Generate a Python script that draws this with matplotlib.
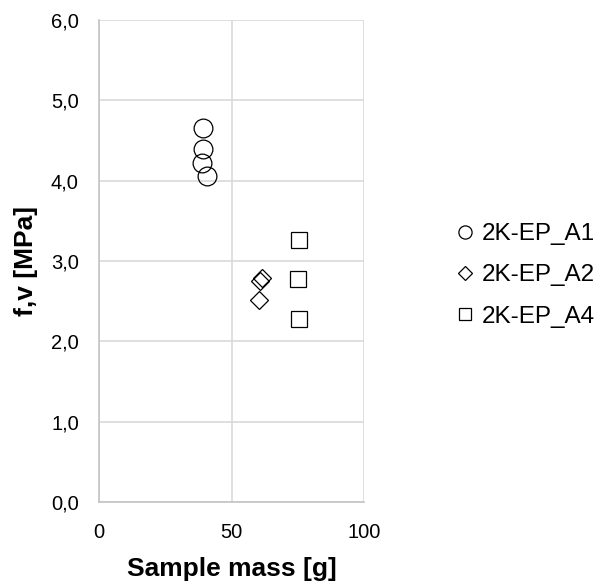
import matplotlib
matplotlib.use("Agg")
import matplotlib.pyplot as plt
from matplotlib.lines import Line2D
from matplotlib.ticker import FuncFormatter, MultipleLocator

plt.rcParams['font.family'] = ['Liberation Sans', 'DejaVu Sans']

# Sample mass [g] and shear strength f,v [MPa] per adhesive series
a1_mass = [39.4, 39.4, 38.7, 40.9]
a1_fv = [4.66, 4.40, 4.22, 4.06]

a2_mass = [61.4, 60.8, 60.5]
a2_fv = [2.79, 2.75, 2.52]

a4_mass = [75.5, 75.0, 75.6]
a4_fv = [3.26, 2.78, 2.28]

series_names = ["2K-EP_A1", "2K-EP_A2", "2K-EP_A4"]

fig = plt.figure(figsize=(6.03, 5.82), dpi=100)
ax = fig.add_axes([0.164, 0.1375, 0.44, 0.828])

style = dict(linestyle='none', markerfacecolor='none', markeredgecolor='black',
             markeredgewidth=0.9)
ax.plot(a1_mass, a1_fv, marker='o', markersize=13.5, **style)
ax.plot(a2_mass, a2_fv, marker='D', markersize=9.5, **style)
ax.plot(a4_mass, a4_fv, marker='s', markersize=12, **style)

ax.set_xlim(0, 100)
ax.set_ylim(0, 6)
ax.xaxis.set_major_locator(MultipleLocator(50))
ax.yaxis.set_major_locator(MultipleLocator(1))
ax.yaxis.set_major_formatter(FuncFormatter(lambda v, p: f"{v:.1f}".replace('.', ',')))
ax.xaxis.set_major_formatter(FuncFormatter(lambda v, p: f"{v:.0f}"))

ax.grid(True, color='#d9d9d9', linewidth=1.2)
ax.set_axisbelow(True)
for side in ('top', 'right'):
    ax.spines[side].set_visible(False)
for side in ('left', 'bottom'):
    ax.spines[side].set_color('#c4c4c4')
    ax.spines[side].set_linewidth(1.2)

ax.tick_params(length=0, labelsize=14.5)
ax.tick_params(axis='x', pad=15)
ax.tick_params(axis='y', pad=14.5)
ax.set_xlabel("Sample mass [g]", fontsize=19, fontweight='bold', labelpad=11)
ax.set_ylabel("f,v [MPa]", fontsize=19, fontweight='bold', labelpad=9)

handles = [
    Line2D([], [], marker='o', markersize=9.5, **style),
    Line2D([], [], marker='D', markersize=7, **style),
    Line2D([], [], marker='s', markersize=9, **style),
]
fig.legend(handles, series_names, loc='center left',
           bbox_to_anchor=(0.7554, 0.527), frameon=False, fontsize=17.5,
           handlelength=0.8, handletextpad=0.3, labelspacing=0.79,
           borderaxespad=0, borderpad=0)

fig.savefig("out.png", dpi=100, facecolor='white')
